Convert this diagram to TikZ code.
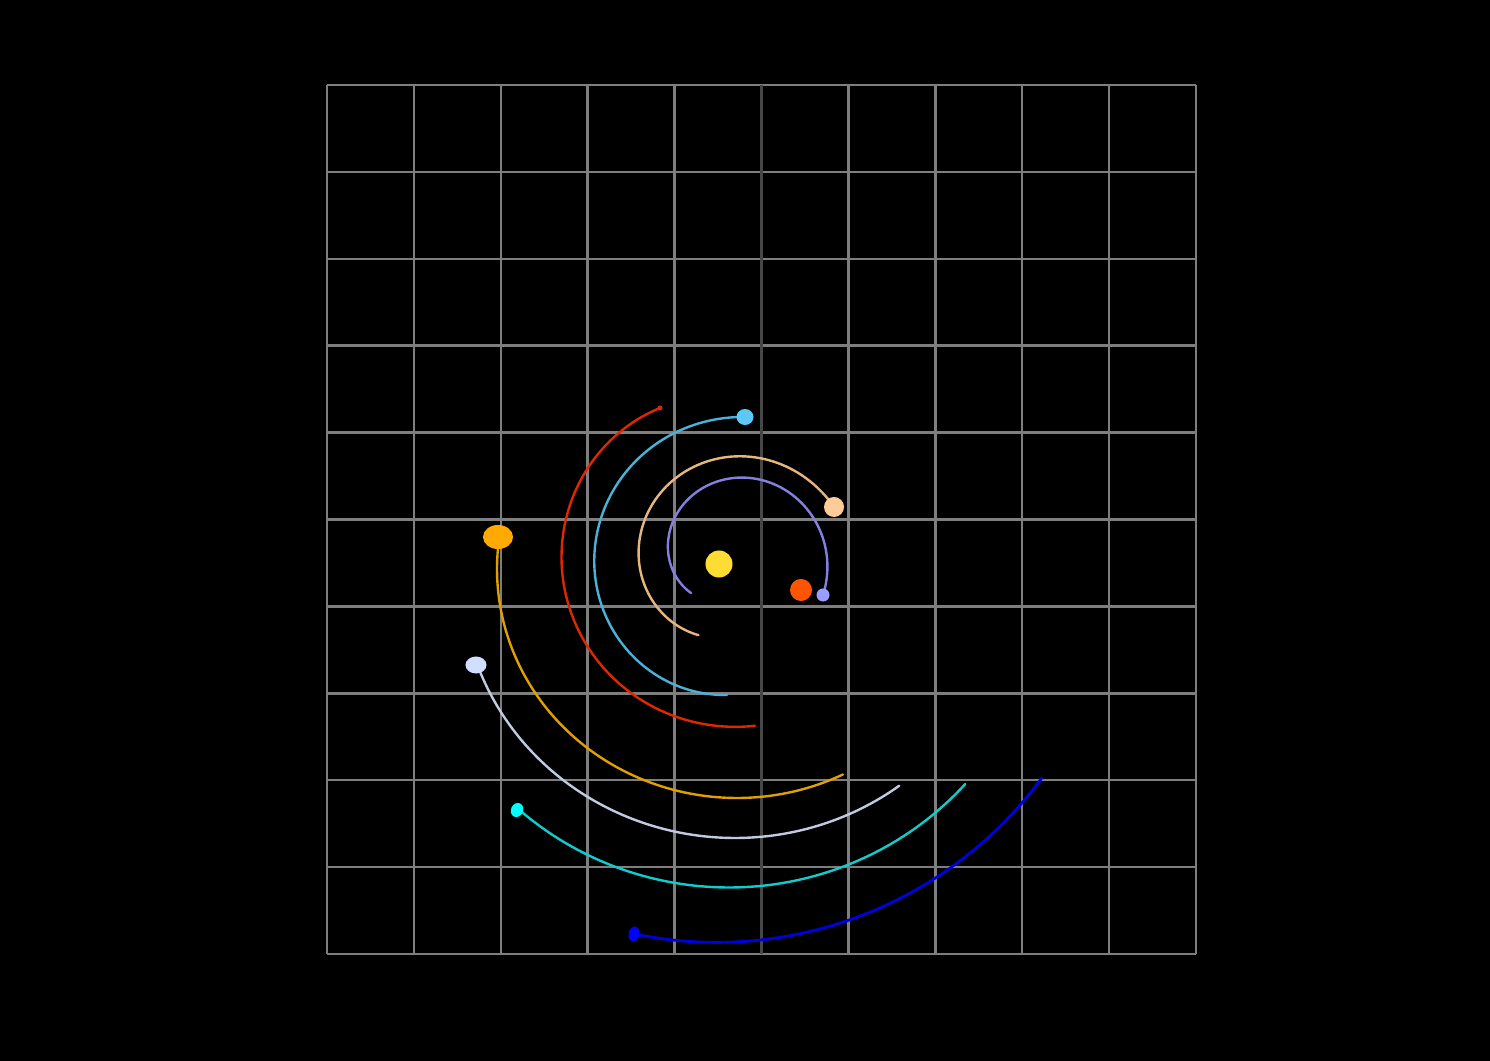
\documentclass[tikz,border=0pt]{standalone}
\usetikzlibrary{shapes.geometric}
\definecolor{gridgray}{HTML}{7E7E7E}
\definecolor{axisgray}{HTML}{474747}
\definecolor{sunc}{HTML}{FDDD33}
\definecolor{redplanet}{HTML}{FF5500}
\definecolor{lavdot}{HTML}{9C9CFF}
\definecolor{lavtrail}{HTML}{8580E0}
\definecolor{peachdot}{HTML}{FFCC99}
\definecolor{peachtrail}{HTML}{E6B680}
\definecolor{skydot}{HTML}{5BC8F5}
\definecolor{skytrail}{HTML}{4AB2D8}
\definecolor{redtrail}{HTML}{DD2800}
\definecolor{orangedot}{HTML}{FFAA00}
\definecolor{orangetrail}{HTML}{E0A000}
\definecolor{whitedot}{HTML}{D2DEFF}
\definecolor{whitetrail}{HTML}{C2CAE2}
\definecolor{cyandot}{HTML}{00FFFF}
\definecolor{cyantrail}{HTML}{10CCCC}
\definecolor{bluedot}{HTML}{0000FF}
\definecolor{bluetrail}{HTML}{0000DD}
\tikzset{
  gridline/.style={draw=gridgray, line width=0.7pt},
  axisline/.style={draw=axisgray, line width=0.7pt},
  trail/.style={line width=0.68pt, line cap=round, line join=round},
  planet/.style={ellipse, inner sep=0pt, draw=none}
}
\begin{document}
\begin{tikzpicture}[x=0.01cm, y=-0.01cm,
  declare function={
    rlav(\s) = 99.4*(\s+0.5)*(\s+1.4)*(\s+2.202)/((0.206+0.5)*(0.206+1.4)*(0.206+2.202))
             + 89.5*(\s-0.206)*(\s+1.4)*(\s+2.202)/((-0.5-0.206)*(-0.5+1.4)*(-0.5+2.202))
             + 70.2*(\s-0.206)*(\s+0.5)*(\s+2.202)/((-1.4-0.206)*(-1.4+0.5)*(-1.4+2.202))
             + 51.1*(\s-0.206)*(\s+0.5)*(\s+1.4)/((-2.202-0.206)*(-2.202+0.5)*(-2.202+1.4));
    rpch(\s) = 116.7*(\s+0.8)*(\s+1.65)*(\s+2.472)/((-0.27+0.8)*(-0.27+1.65)*(-0.27+2.472))
             + 105*(\s+0.27)*(\s+1.65)*(\s+2.472)/((-0.8+0.27)*(-0.8+1.65)*(-0.8+2.472))
             + 93*(\s+0.27)*(\s+0.8)*(\s+2.472)/((-1.65+0.27)*(-1.65+0.8)*(-1.65+2.472))
             + 81.5*(\s+0.27)*(\s+0.8)*(\s+1.65)/((-2.472+0.27)*(-2.472+0.8)*(-2.472+1.65));
    rsky(\s) = 146.5*(\s+1.4)*(\s+2.1)*(\s+2.674)/((-0.853+1.4)*(-0.853+2.1)*(-0.853+2.674))
             + 140.5*(\s+0.853)*(\s+2.1)*(\s+2.674)/((-1.4+0.853)*(-1.4+2.1)*(-1.4+2.674))
             + 137.5*(\s+0.853)*(\s+1.4)*(\s+2.674)/((-2.1+0.853)*(-2.1+1.4)*(-2.1+2.674))
             + 132.1*(\s+0.853)*(\s+1.4)*(\s+2.1)/((-2.674+0.853)*(-2.674+1.4)*(-2.674+2.1));
    rred(\s) = 167.7*(\s+1.5)*(\s+2.3)*(\s+2.784)/((-1.148+1.5)*(-1.148+2.3)*(-1.148+2.784))
             + 169.8*(\s+1.148)*(\s+2.3)*(\s+2.784)/((-1.5+1.148)*(-1.5+2.3)*(-1.5+2.784))
             + 166*(\s+1.148)*(\s+1.5)*(\s+2.784)/((-2.3+1.148)*(-2.3+1.5)*(-2.3+2.784))
             + 167.4*(\s+1.148)*(\s+1.5)*(\s+2.3)/((-2.784+1.148)*(-2.784+1.5)*(-2.784+2.3));
  }]
\fill[black] (0,0) rectangle (1490,1061);
\useasboundingbox (0,0) rectangle (1490,1061);
% grid
\foreach \i in {0,1,2,3,4,6,7,8,9,10}{
  \draw[gridline] ({327+86.9*\i},85) -- ({327+86.9*\i},954);
}
\foreach \j in {0,...,10}{
  \draw[gridline] (327,{85+86.9*\j}) -- (1196,{85+86.9*\j});
}
\draw[axisline] (761.5,85) -- (761.5,954);
% inner trails (spiralling arcs about local centres)
\draw[trail, lavtrail] plot[domain=-220.2:20.6, samples=90] ({730+rlav(\x/100)*cos(\x)}, {560+rlav(\x/100)*sin(\x)});
\draw[trail, peachtrail] plot[domain=-247.2:-27, samples=90] ({730+rpch(\x/100)*cos(\x)}, {560+rpch(\x/100)*sin(\x)});
\draw[trail, skytrail] plot[domain=-267.4:-85.3, samples=90] ({733+rsky(\x/100)*cos(\x)}, {563+rsky(\x/100)*sin(\x)});
\draw[trail, redtrail] plot[domain=-278.4:-114.8, samples=90] ({730.4+rred(\x/100)*cos(\x)}, {560.2+rred(\x/100)*sin(\x)});
% outer trails (elliptic arcs)
\draw[trail, orangetrail] plot[domain=63.8:188, samples=90] ({737+240*cos(\x)}, {569+229*sin(\x)});
\draw[trail, whitetrail] plot[domain=53.1:160.4, samples=90] ({735+273.6*cos(\x)}, {577+261*sin(\x)});
\draw[trail, cyantrail] plot[domain=41.8:131.7, samples=90] ({729+317*cos(\x)}, {577+310.5*sin(\x)});
\draw[trail, bluetrail, line width=0.8pt] plot[domain=36.4:101.8, samples=90] ({716.6+404*cos(\x)}, {538.4+404*sin(\x)});
% bodies
\node[planet, fill=sunc, minimum width=0.27cm, minimum height=0.27cm] (sun) at (719,564) {};
\node[planet, fill=redplanet, minimum width=0.22cm, minimum height=0.22cm] (redp) at (801,590) {};
\node[planet, fill=lavdot, minimum width=0.13cm, minimum height=0.13cm] (lav) at (823,595) {};
\node[planet, fill=peachdot, minimum width=0.20cm, minimum height=0.20cm] (peach) at (834,507) {};
\node[planet, fill=skydot, minimum width=0.17cm, minimum height=0.16cm] (sky) at (745,417) {};
\node[planet, fill=redtrail, minimum width=0.05cm, minimum height=0.05cm] (redtip) at (660,408) {};
\node[planet, fill=orangedot, minimum width=0.30cm, minimum height=0.24cm] (orange) at (498,537) {};
\node[planet, fill=whitedot, minimum width=0.21cm, minimum height=0.17cm] (whitep) at (476,665) {};
\node[planet, fill=cyandot, minimum width=0.12cm, minimum height=0.145cm, rotate=-25] (cyanp) at (517,810) {};
\node[planet, fill=bluedot, minimum width=0.11cm, minimum height=0.15cm, rotate=-10] (bluep) at (634,934) {};
\end{tikzpicture}
\end{document}
